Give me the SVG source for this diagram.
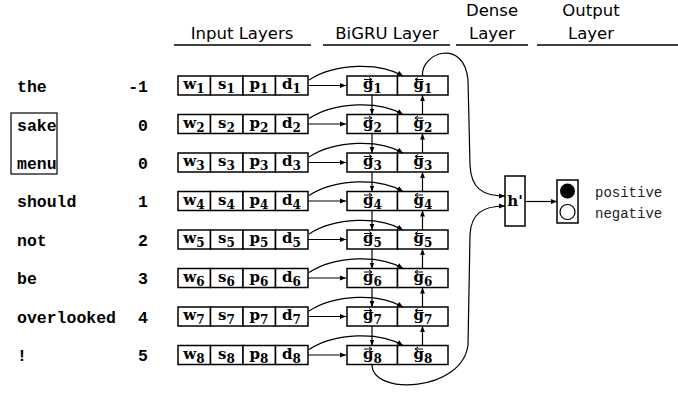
<svg xmlns="http://www.w3.org/2000/svg" width="678" height="394" viewBox="0 0 678 394">
<style>
.hdr{font-family:"DejaVu Sans",sans-serif;font-size:16.5px;fill:#000;text-anchor:middle}
.ul{stroke:#000;stroke-width:1.3}
.word{font-family:"Liberation Mono","Courier New",monospace;font-size:16.5px;font-weight:bold;fill:#000}
.num{font-family:"Liberation Mono","Courier New",monospace;font-size:16.5px;font-weight:bold;fill:#000;text-anchor:end}
.cell{fill:#fff;stroke:#000;stroke-width:1.5}
.ct{font-family:"DejaVu Serif",serif;font-weight:bold;font-size:15px;fill:#000;text-anchor:middle}
.gt{font-family:"DejaVu Serif",serif;font-weight:bold;font-size:15px;fill:#000}
.sub{font-size:12px}
.ln{fill:none;stroke:#000;stroke-width:1.2}
.acc{fill:none;stroke:#000;stroke-width:1}
.out{font-family:"Liberation Mono","Courier New",monospace;font-size:14px;fill:#222}
</style>
<defs>
<marker id="ah" viewBox="0 0 10 10" refX="10" refY="5" markerWidth="6" markerHeight="6" orient="auto" markerUnits="userSpaceOnUse">
<path d="M0,1 L10,5 L0,9 z" fill="#000"/>
</marker>
<path id="ra" class="acc" d="M0,0 h8 m-3,-2 l3,2 l-3,2"/>
<path id="la" class="acc" d="M0,0 h-8 m3,-2 l-3,2 l3,2"/>
</defs>
<rect width="678" height="394" fill="#fff"/>
<g id="headers">
<text class="hdr" x="242" y="39">Input Layers</text>
<line class="ul" x1="174" y1="45" x2="311" y2="45"/>
<text class="hdr" x="387" y="39">BiGRU Layer</text>
<line class="ul" x1="323" y1="45" x2="450" y2="45"/>
<text class="hdr" x="492" y="16">Dense</text>
<text class="hdr" x="492" y="39">Layer</text>
<line class="ul" x1="456" y1="45" x2="528" y2="45"/>
<text class="hdr" x="591" y="16">Output</text>
<text class="hdr" x="591" y="39">Layer</text>
<line class="ul" x1="537" y1="45" x2="678" y2="45"/>
</g>
<g id="words">
<text class="word" x="17" y="92">the</text>
<text class="num" x="148" y="92">-1</text>
<text class="word" x="17" y="131">sake</text>
<text class="num" x="148" y="131">0</text>
<text class="word" x="17" y="169">menu</text>
<text class="num" x="148" y="169">0</text>
<text class="word" x="17" y="207">should</text>
<text class="num" x="148" y="207">1</text>
<text class="word" x="17" y="246">not</text>
<text class="num" x="148" y="246">2</text>
<text class="word" x="17" y="284">be</text>
<text class="num" x="148" y="284">3</text>
<text class="word" x="17" y="323">overlooked</text>
<text class="num" x="148" y="323">4</text>
<text class="word" x="17" y="361">!</text>
<text class="num" x="148" y="361">5</text>
<rect x="11" y="113" width="46" height="61" fill="none" stroke="#000" stroke-width="1.2"/>
</g>
<g id="input1"><rect class="cell" x="178" y="76" width="32.5" height="19"/><rect class="cell" x="210.5" y="76" width="32.5" height="19"/><rect class="cell" x="243" y="76" width="32.5" height="19"/><rect class="cell" x="275.5" y="76" width="32.5" height="19"/>
<text class="ct" x="194" y="89">w<tspan class="sub" dy="4">1</tspan></text><text class="ct" x="226.5" y="89">s<tspan class="sub" dy="4">1</tspan></text><text class="ct" x="259" y="89">p<tspan class="sub" dy="4">1</tspan></text><text class="ct" x="291.5" y="89">d<tspan class="sub" dy="4">1</tspan></text></g>
<g id="input2"><rect class="cell" x="178" y="114.5" width="32.5" height="19"/><rect class="cell" x="210.5" y="114.5" width="32.5" height="19"/><rect class="cell" x="243" y="114.5" width="32.5" height="19"/><rect class="cell" x="275.5" y="114.5" width="32.5" height="19"/>
<text class="ct" x="194" y="127.5">w<tspan class="sub" dy="4">2</tspan></text><text class="ct" x="226.5" y="127.5">s<tspan class="sub" dy="4">2</tspan></text><text class="ct" x="259" y="127.5">p<tspan class="sub" dy="4">2</tspan></text><text class="ct" x="291.5" y="127.5">d<tspan class="sub" dy="4">2</tspan></text></g>
<g id="input3"><rect class="cell" x="178" y="153" width="32.5" height="19"/><rect class="cell" x="210.5" y="153" width="32.5" height="19"/><rect class="cell" x="243" y="153" width="32.5" height="19"/><rect class="cell" x="275.5" y="153" width="32.5" height="19"/>
<text class="ct" x="194" y="166">w<tspan class="sub" dy="4">3</tspan></text><text class="ct" x="226.5" y="166">s<tspan class="sub" dy="4">3</tspan></text><text class="ct" x="259" y="166">p<tspan class="sub" dy="4">3</tspan></text><text class="ct" x="291.5" y="166">d<tspan class="sub" dy="4">3</tspan></text></g>
<g id="input4"><rect class="cell" x="178" y="191.5" width="32.5" height="19"/><rect class="cell" x="210.5" y="191.5" width="32.5" height="19"/><rect class="cell" x="243" y="191.5" width="32.5" height="19"/><rect class="cell" x="275.5" y="191.5" width="32.5" height="19"/>
<text class="ct" x="194" y="204.5">w<tspan class="sub" dy="4">4</tspan></text><text class="ct" x="226.5" y="204.5">s<tspan class="sub" dy="4">4</tspan></text><text class="ct" x="259" y="204.5">p<tspan class="sub" dy="4">4</tspan></text><text class="ct" x="291.5" y="204.5">d<tspan class="sub" dy="4">4</tspan></text></g>
<g id="input5"><rect class="cell" x="178" y="230" width="32.5" height="19"/><rect class="cell" x="210.5" y="230" width="32.5" height="19"/><rect class="cell" x="243" y="230" width="32.5" height="19"/><rect class="cell" x="275.5" y="230" width="32.5" height="19"/>
<text class="ct" x="194" y="243">w<tspan class="sub" dy="4">5</tspan></text><text class="ct" x="226.5" y="243">s<tspan class="sub" dy="4">5</tspan></text><text class="ct" x="259" y="243">p<tspan class="sub" dy="4">5</tspan></text><text class="ct" x="291.5" y="243">d<tspan class="sub" dy="4">5</tspan></text></g>
<g id="input6"><rect class="cell" x="178" y="268.5" width="32.5" height="19"/><rect class="cell" x="210.5" y="268.5" width="32.5" height="19"/><rect class="cell" x="243" y="268.5" width="32.5" height="19"/><rect class="cell" x="275.5" y="268.5" width="32.5" height="19"/>
<text class="ct" x="194" y="281.5">w<tspan class="sub" dy="4">6</tspan></text><text class="ct" x="226.5" y="281.5">s<tspan class="sub" dy="4">6</tspan></text><text class="ct" x="259" y="281.5">p<tspan class="sub" dy="4">6</tspan></text><text class="ct" x="291.5" y="281.5">d<tspan class="sub" dy="4">6</tspan></text></g>
<g id="input7"><rect class="cell" x="178" y="307" width="32.5" height="19"/><rect class="cell" x="210.5" y="307" width="32.5" height="19"/><rect class="cell" x="243" y="307" width="32.5" height="19"/><rect class="cell" x="275.5" y="307" width="32.5" height="19"/>
<text class="ct" x="194" y="320">w<tspan class="sub" dy="4">7</tspan></text><text class="ct" x="226.5" y="320">s<tspan class="sub" dy="4">7</tspan></text><text class="ct" x="259" y="320">p<tspan class="sub" dy="4">7</tspan></text><text class="ct" x="291.5" y="320">d<tspan class="sub" dy="4">7</tspan></text></g>
<g id="input8"><rect class="cell" x="178" y="345.5" width="32.5" height="19"/><rect class="cell" x="210.5" y="345.5" width="32.5" height="19"/><rect class="cell" x="243" y="345.5" width="32.5" height="19"/><rect class="cell" x="275.5" y="345.5" width="32.5" height="19"/>
<text class="ct" x="194" y="358.5">w<tspan class="sub" dy="4">8</tspan></text><text class="ct" x="226.5" y="358.5">s<tspan class="sub" dy="4">8</tspan></text><text class="ct" x="259" y="358.5">p<tspan class="sub" dy="4">8</tspan></text><text class="ct" x="291.5" y="358.5">d<tspan class="sub" dy="4">8</tspan></text></g>
<g id="gru1"><rect class="cell" x="347" y="76" width="50.5" height="19"/><rect class="cell" x="397.5" y="76" width="50.5" height="19"/><text class="gt" x="363" y="89">g<tspan class="sub" dy="4">1</tspan></text><text class="gt" x="413.5" y="89">g<tspan class="sub" dy="4">1</tspan></text><use href="#ra" x="364" y="79.5"/><use href="#la" x="423" y="79.5"/></g>
<g id="gru2"><rect class="cell" x="347" y="114.5" width="50.5" height="19"/><rect class="cell" x="397.5" y="114.5" width="50.5" height="19"/><text class="gt" x="363" y="127.5">g<tspan class="sub" dy="4">2</tspan></text><text class="gt" x="413.5" y="127.5">g<tspan class="sub" dy="4">2</tspan></text><use href="#ra" x="364" y="118"/><use href="#la" x="423" y="118"/></g>
<g id="gru3"><rect class="cell" x="347" y="153" width="50.5" height="19"/><rect class="cell" x="397.5" y="153" width="50.5" height="19"/><text class="gt" x="363" y="166">g<tspan class="sub" dy="4">3</tspan></text><text class="gt" x="413.5" y="166">g<tspan class="sub" dy="4">3</tspan></text><use href="#ra" x="364" y="156.5"/><use href="#la" x="423" y="156.5"/></g>
<g id="gru4"><rect class="cell" x="347" y="191.5" width="50.5" height="19"/><rect class="cell" x="397.5" y="191.5" width="50.5" height="19"/><text class="gt" x="363" y="204.5">g<tspan class="sub" dy="4">4</tspan></text><text class="gt" x="413.5" y="204.5">g<tspan class="sub" dy="4">4</tspan></text><use href="#ra" x="364" y="195"/><use href="#la" x="423" y="195"/></g>
<g id="gru5"><rect class="cell" x="347" y="230" width="50.5" height="19"/><rect class="cell" x="397.5" y="230" width="50.5" height="19"/><text class="gt" x="363" y="243">g<tspan class="sub" dy="4">5</tspan></text><text class="gt" x="413.5" y="243">g<tspan class="sub" dy="4">5</tspan></text><use href="#ra" x="364" y="233.5"/><use href="#la" x="423" y="233.5"/></g>
<g id="gru6"><rect class="cell" x="347" y="268.5" width="50.5" height="19"/><rect class="cell" x="397.5" y="268.5" width="50.5" height="19"/><text class="gt" x="363" y="281.5">g<tspan class="sub" dy="4">6</tspan></text><text class="gt" x="413.5" y="281.5">g<tspan class="sub" dy="4">6</tspan></text><use href="#ra" x="364" y="272"/><use href="#la" x="423" y="272"/></g>
<g id="gru7"><rect class="cell" x="347" y="307" width="50.5" height="19"/><rect class="cell" x="397.5" y="307" width="50.5" height="19"/><text class="gt" x="363" y="320">g<tspan class="sub" dy="4">7</tspan></text><text class="gt" x="413.5" y="320">g<tspan class="sub" dy="4">7</tspan></text><use href="#ra" x="364" y="310.5"/><use href="#la" x="423" y="310.5"/></g>
<g id="gru8"><rect class="cell" x="347" y="345.5" width="50.5" height="19"/><rect class="cell" x="397.5" y="345.5" width="50.5" height="19"/><text class="gt" x="363" y="358.5">g<tspan class="sub" dy="4">8</tspan></text><text class="gt" x="413.5" y="358.5">g<tspan class="sub" dy="4">8</tspan></text><use href="#ra" x="364" y="349"/><use href="#la" x="423" y="349"/></g>
<g id="dense"><rect class="cell" x="505" y="176" width="20" height="50"/><text class="ct" x="515" y="206">h'</text></g>
<g id="output"><rect class="cell" x="557" y="180" width="21" height="43"/><circle cx="567.5" cy="191" r="7.5" fill="#000"/><circle cx="567.5" cy="212" r="7.5" fill="#fff" stroke="#000" stroke-width="1.2"/>
<text class="out" x="595" y="197">positive</text><text class="out" x="595" y="218">negative</text></g>
<g id="connectors">
<path class="ln" marker-end="url(#ah)" d="M308,85.5 H346"/>
<path class="ln" marker-end="url(#ah)" d="M308,124 H346"/>
<path class="ln" marker-end="url(#ah)" d="M308,162.5 H346"/>
<path class="ln" marker-end="url(#ah)" d="M308,201 H346"/>
<path class="ln" marker-end="url(#ah)" d="M308,239.5 H346"/>
<path class="ln" marker-end="url(#ah)" d="M308,278 H346"/>
<path class="ln" marker-end="url(#ah)" d="M308,316.5 H346"/>
<path class="ln" marker-end="url(#ah)" d="M308,355 H346"/>
<path class="ln" marker-end="url(#ah)" d="M309,80 C335,63 380,62 403,76"/>
<path class="ln" marker-end="url(#ah)" d="M309,118.5 C335,101.5 380,100.5 403,114.5"/>
<path class="ln" marker-end="url(#ah)" d="M309,157 C335,140 380,139 403,153"/>
<path class="ln" marker-end="url(#ah)" d="M309,195.5 C335,178.5 380,177.5 403,191.5"/>
<path class="ln" marker-end="url(#ah)" d="M309,234 C335,217 380,216 403,230"/>
<path class="ln" marker-end="url(#ah)" d="M309,272.5 C335,255.5 380,254.5 403,268.5"/>
<path class="ln" marker-end="url(#ah)" d="M309,311 C335,294 380,293 403,307"/>
<path class="ln" marker-end="url(#ah)" d="M309,349.5 C335,332.5 380,331.5 403,345.5"/>
<path class="ln" marker-end="url(#ah)" d="M372,95 V114.5"/>
<path class="ln" marker-end="url(#ah)" d="M372,133.5 V153"/>
<path class="ln" marker-end="url(#ah)" d="M372,172 V191.5"/>
<path class="ln" marker-end="url(#ah)" d="M372,210.5 V230"/>
<path class="ln" marker-end="url(#ah)" d="M372,249 V268.5"/>
<path class="ln" marker-end="url(#ah)" d="M372,287.5 V307"/>
<path class="ln" marker-end="url(#ah)" d="M372,326 V345.5"/>
<path class="ln" marker-end="url(#ah)" d="M422.5,114.5 V95"/>
<path class="ln" marker-end="url(#ah)" d="M422.5,153 V133.5"/>
<path class="ln" marker-end="url(#ah)" d="M422.5,191.5 V172"/>
<path class="ln" marker-end="url(#ah)" d="M422.5,230 V210.5"/>
<path class="ln" marker-end="url(#ah)" d="M422.5,268.5 V249"/>
<path class="ln" marker-end="url(#ah)" d="M422.5,307 V287.5"/>
<path class="ln" marker-end="url(#ah)" d="M422.5,345.5 V326"/>
<path class="ln" marker-end="url(#ah)" d="M422.5,76 C421,52 464,38 468,80 L470,165 C471,188 482,196 505,196"/>
<path class="ln" marker-end="url(#ah)" d="M372,364.5 C372,396 462,392 468,345 L470,235 C471,214 482,206 505,206"/>
<path class="ln" marker-end="url(#ah)" d="M525,201.5 H557"/>
</g>
</svg>
